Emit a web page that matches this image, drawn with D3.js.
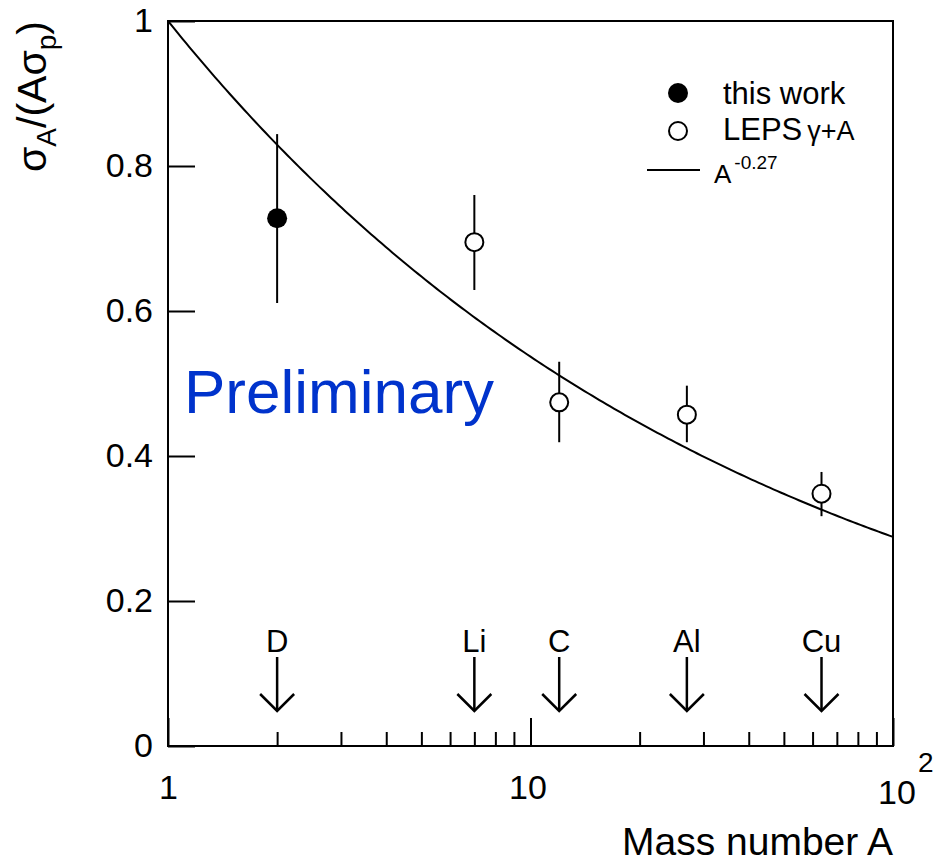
<!DOCTYPE html>
<html>
<head>
<meta charset="utf-8">
<script src="https://cdn.jsdelivr.net/npm/d3@7"></script>
<style>
  html, body { margin: 0; padding: 0; background: #fff; }
  svg { display: block; font-family: "Liberation Sans", Arial, Helvetica, sans-serif; }
</style>
</head>
<body>
<svg id="chart" width="938" height="865"></svg>
<script>
// Nuclear targets (mass number A) and the ratio sigma_A / (A sigma_p)
const thisWorkA = [2];
const thisWorkVal = [0.728];
const thisWorkLo = [0.611];
const thisWorkHi = [0.844];

const lepsA = [7, 12, 27, 63.5];
const lepsVal = [0.695, 0.474, 0.457, 0.348];
const lepsLo = [0.629, 0.419, 0.419, 0.317];
const lepsHi = [0.760, 0.530, 0.497, 0.378];

const targetNames = ["D", "Li", "C", "Al", "Cu"];
const targetA = [2, 7, 12, 27, 63.5];

const yTicks = [0, 0.2, 0.4, 0.6, 0.8, 1];
const xMajorTicks = [1, 10, 100];
const xMinorTicks = [2, 3, 4, 5, 6, 7, 8, 9, 20, 30, 40, 50, 60, 70, 80, 90];
const fitExponent = -0.27;

const svg = d3.select("#chart");
const x = d3.scaleLog().domain([1, 100]).range([168, 893]);
const y = d3.scaleLinear().domain([0, 1]).range([746, 21]);

// Frame
svg.append("rect")
  .attr("x", x(1)).attr("y", y(1))
  .attr("width", x(100) - x(1)).attr("height", y(0) - y(1))
  .attr("fill", "none").attr("stroke", "#000").attr("stroke-width", 2);

// Y axis: inward ticks, labels to the left
const yAxis = svg.append("g")
  .attr("transform", `translate(${x(1)},0)`)
  .call(d3.axisLeft(y).tickValues(yTicks)
    .tickSizeInner(-27).tickSizeOuter(0).tickPadding(15)
    .tickFormat(d => d === 0 ? "0" : d === 1 ? "1" : d3.format(".1f")(d)));
yAxis.select(".domain").remove();
yAxis.selectAll("line").attr("stroke-width", 2);
yAxis.selectAll("text").attr("font-size", 34).attr("fill", "#000")
  .attr("font-family", "\"Liberation Sans\", Arial, sans-serif");

// X axis: major and minor inward ticks
const xMinor = svg.append("g")
  .attr("transform", `translate(0,${y(0)})`)
  .call(d3.axisBottom(x).tickValues(xMinorTicks)
    .tickSizeInner(-14).tickSizeOuter(0).tickFormat(""));
xMinor.select(".domain").remove();
xMinor.selectAll("line").attr("stroke-width", 2);

const xMajor = svg.append("g")
  .attr("transform", `translate(0,${y(0)})`)
  .call(d3.axisBottom(x).tickValues(xMajorTicks)
    .tickSizeInner(-28).tickSizeOuter(0).tickPadding(29)
    .tickFormat(d => d === 100 ? "" : String(d)));
xMajor.select(".domain").remove();
xMajor.selectAll("line").attr("stroke-width", 2);
xMajor.selectAll("text").attr("font-size", 34).attr("fill", "#000")
  .attr("font-family", "\"Liberation Sans\", Arial, sans-serif");
xMajor.selectAll(".tick").filter(d => d === 10).select("text").attr("dx", -3);

// 10^2 label
svg.append("text")
  .attr("x", x(100) + 4).attr("y", 804)
  .attr("text-anchor", "middle").attr("font-size", 34)
  .text("10");
svg.append("text")
  .attr("x", x(100) + 25).attr("y", 772)
  .attr("font-size", 28).text("2");

// Axis titles
svg.append("text")
  .attr("x", 893).attr("y", 855)
  .attr("text-anchor", "end").attr("font-size", 39)
  .text("Mass number A");

const yTitle = svg.append("text")
  .attr("transform", `translate(46,${y(1)}) rotate(-90)`)
  .attr("text-anchor", "end").attr("font-size", 41);
yTitle.append("tspan").text("σ");
yTitle.append("tspan").attr("font-size", 28).attr("dy", 10).text("A");
yTitle.append("tspan").attr("dy", -10).text("/(Aσ");
yTitle.append("tspan").attr("font-size", 28).attr("dy", 10).text("p");
yTitle.append("tspan").attr("dy", -10).text(")");

// Fit curve A^-0.27
const curveA = d3.range(0, 2.0001, 0.01).map(e => Math.pow(10, e));
svg.append("path")
  .datum(curveA)
  .attr("fill", "none").attr("stroke", "#000").attr("stroke-width", 2)
  .attr("d", d3.line().x(a => x(a)).y(a => y(Math.pow(a, fitExponent))));

// LEPS points (open circles with error bars)
lepsA.forEach((a, i) => {
  svg.append("line")
    .attr("x1", x(a)).attr("x2", x(a))
    .attr("y1", y(lepsLo[i])).attr("y2", y(lepsHi[i]))
    .attr("stroke", "#000").attr("stroke-width", 2);
  svg.append("circle")
    .attr("cx", x(a)).attr("cy", y(lepsVal[i])).attr("r", 9)
    .attr("fill", "#fff").attr("stroke", "#000").attr("stroke-width", 2);
});

// This work (filled circle with error bar)
thisWorkA.forEach((a, i) => {
  svg.append("line")
    .attr("x1", x(a)).attr("x2", x(a))
    .attr("y1", y(thisWorkLo[i])).attr("y2", y(thisWorkHi[i]))
    .attr("stroke", "#000").attr("stroke-width", 2);
  svg.append("circle")
    .attr("cx", x(a)).attr("cy", y(thisWorkVal[i])).attr("r", 10)
    .attr("fill", "#000");
});

// Target markers with arrows
targetA.forEach((a, i) => {
  const cx = x(a);
  svg.append("text")
    .attr("x", cx).attr("y", 652)
    .attr("text-anchor", "middle").attr("font-size", 31)
    .text(targetNames[i]);
  svg.append("line")
    .attr("x1", cx).attr("x2", cx).attr("y1", 657).attr("y2", 710)
    .attr("stroke", "#000").attr("stroke-width", 2.5);
  svg.append("path")
    .attr("d", `M${cx - 17},${694} L${cx},${711} L${cx + 17},${694}`)
    .attr("fill", "none").attr("stroke", "#000").attr("stroke-width", 2.5);
});

// Preliminary label
svg.append("text")
  .attr("x", 184).attr("y", 413)
  .attr("font-size", 62).attr("fill", "#0033cc")
  .text("Preliminary");

// Legend
const lg = svg.append("g");
lg.append("circle").attr("cx", 678).attr("cy", 93).attr("r", 10).attr("fill", "#000");
lg.append("text").attr("x", 723).attr("y", 104).attr("font-size", 31).text("this work");

lg.append("circle").attr("cx", 678).attr("cy", 131).attr("r", 9)
  .attr("fill", "#fff").attr("stroke", "#000").attr("stroke-width", 2);
const lepsText = lg.append("text").attr("x", 723).attr("y", 140).attr("font-size", 31);
lepsText.append("tspan").text("LEPS");
lepsText.append("tspan").attr("dx", 5).attr("font-size", 27).text("γ+A");

lg.append("line").attr("x1", 647).attr("x2", 700).attr("y1", 170).attr("y2", 170)
  .attr("stroke", "#000").attr("stroke-width", 2);
const fitText = lg.append("text").attr("x", 714).attr("y", 183).attr("font-size", 26);
fitText.append("tspan").text("A");
fitText.append("tspan").attr("font-size", 19).attr("dy", -14).attr("dx", 3).text("-0.27");
</script>
</body>
</html>
